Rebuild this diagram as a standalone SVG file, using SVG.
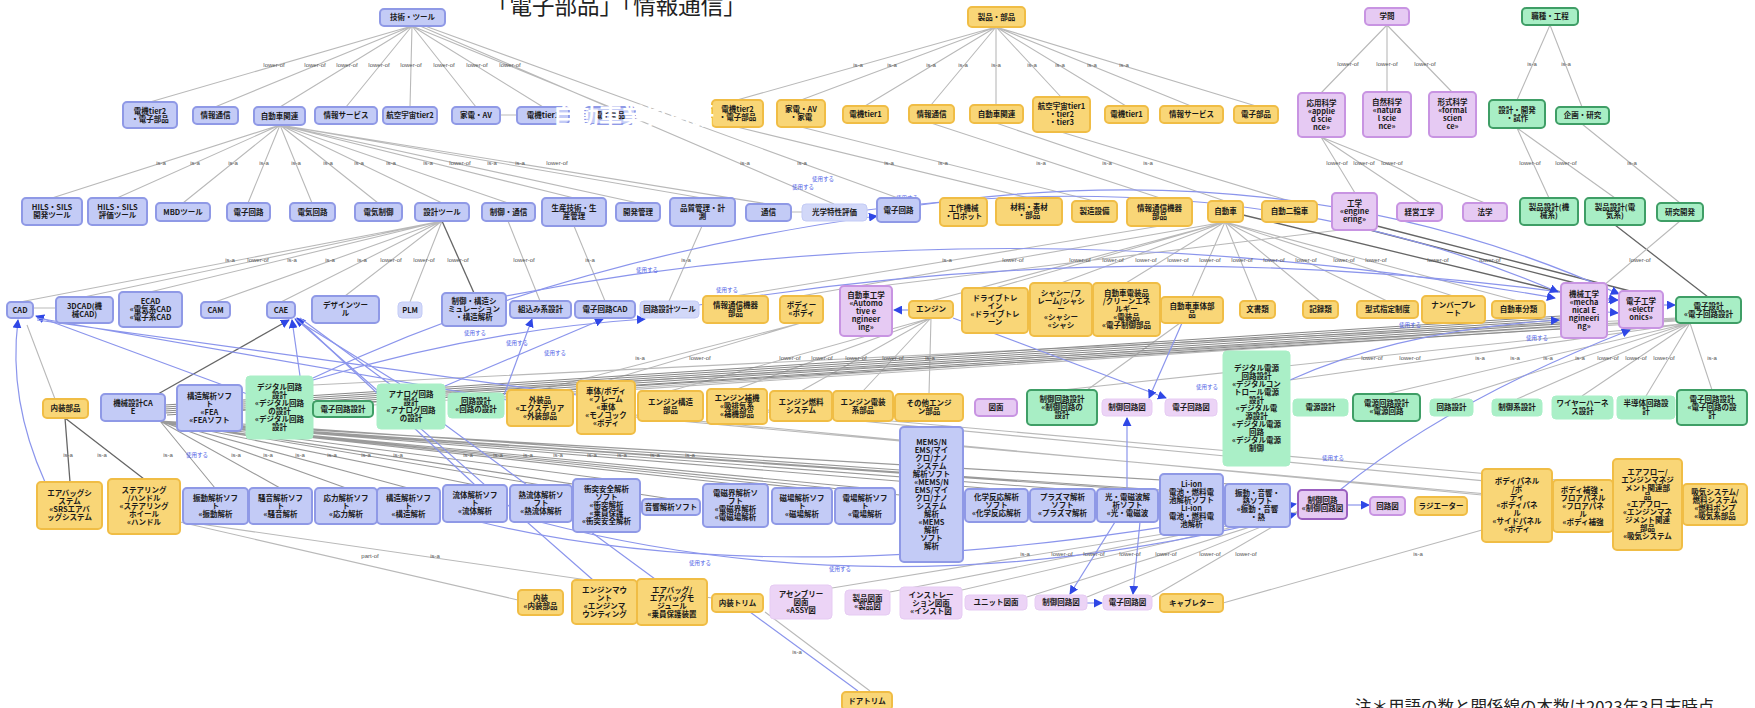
<svg xmlns="http://www.w3.org/2000/svg" width="1755" height="708" viewBox="0 0 1755 708">
<defs>
<marker id="ab" viewBox="0 0 10 10" refX="9" refY="5" markerWidth="9" markerHeight="9" markerUnits="userSpaceOnUse" orient="auto"><path d="M0,0L10,5L0,10z" fill="#2f47e6"/></marker>
<style>
.b{fill:#c3cbf6;stroke:#8f99e6;stroke-width:2}
.bl{fill:#d2d8f8;stroke:#c3cbf6;stroke-width:1}
.y{fill:#f9d677;stroke:#f0bd45;stroke-width:2}
.p{fill:#e6caf3;stroke:#c894e2;stroke-width:2}
.pl{fill:#ecd4f6;stroke:#e6cbf3;stroke-width:1}
.pd{fill:#e6caf3;stroke:#9b5fc0;stroke-width:2}
.g{fill:#a8eec5;stroke:#3f9e66;stroke-width:2}
.gl{fill:#aaefc7;stroke:#aaefc7;stroke-width:1}
.t{font-family:"Noto Sans CJK JP","Noto Sans",sans-serif;font-size:7.5px;font-weight:bold;fill:#1a1a1a;text-anchor:middle}
.e{stroke:#b9b9b9;stroke-width:1.1;fill:none}
.em{stroke:#9a9a9a;stroke-width:1.1;fill:none}
.ek{stroke:#888;stroke-width:1;fill:none}
.ed{stroke:#666;stroke-width:1.3;fill:none}
.eb{stroke:#8b95ec;stroke-width:1.2;fill:none;marker-end:url(#ab)}
.ebn{stroke:#8b95ec;stroke-width:1.2;fill:none}
.l{font-family:"Liberation Sans",sans-serif;font-size:6px;fill:#555;text-anchor:middle}
.lb{font-family:"Noto Sans CJK JP",sans-serif;font-size:5.5px;fill:#4a5ae6;text-anchor:middle}
</style>
</defs>
<rect width="1755" height="708" fill="#ffffff"/>
<g id="connectors">
<path class="e" d="M412 26L150 102M412 26L215 107M412 26L280 107M412 26L346 107M412 26L410 107M412 26L476 107M412 26L543 107M412 26L610 107M420 26L834 204M425 26L898 198"/>
<path class="e" d="M996 27L737 100M996 27L801 100M996 27L865 106M996 27L931 105M996 27L996 105M996 27L1061 97M996 27L1126 106M996 27L1191 106M996 27L1256 106"/>
<path class="e" d="M1387 25L1321 93M1387 25L1387 92M1387 25L1452 92M1550 25L1517 100M1550 25L1582 107"/>
<path class="e" d="M280 125L52 198M280 125L117 198M280 125L183 203M280 125L248 203M280 125L312 203M280 125L378 203M280 125L442 203M280 125L508 203M280 125L574 198M280 125L638 203M280 125L702 198M280 125L768 204"/>
<path class="e" d="M737 127L1029 198M801 127L1094 201M931 123L1160 198M996 123L1225 201M1061 132L1290 201"/>
<path class="e" d="M1321 137L1355 193M1321 137L1420 203M1321 137L1485 203M1517 128L1549 198M1517 128L1615 198M1582 124L1680 203"/>
<path class="e" d="M500 115L517 115M791 212L802 212M33 308L56 308"/>
<path class="e" d="M442 221L20 302M442 221L84 297M442 221L150 292M442 221L215 302M442 221L281 302M442 221L345 296M442 221L410 302M508 221L540 301M574 226L605 301M702 226L669 301M1160 226L735 296"/>
<path class="ed" d="M442 221L474 293"/>
<path class="e" d="M1225 222L801 296M1225 222L931 301M1225 222L995 288M1225 222L1061 283M1225 222L1126 283M1225 222L1192 297M1225 222L1257 301M1225 222L1320 301M1225 222L1387 301M1225 222L1453 296M1225 222L1518 301M1340 230L880 286"/>
<path class="ed" d="M1243 215L1561 292M1370 230L1575 283M1377 226L1630 291M1615 225L1708 297"/>
<path class="e" d="M1680 221L1603 286"/>
<path class="e" d="M931 318L670 391M931 318L737 389M931 318L801 391M931 318L863 391M931 318L929 394M801 323L540 390M801 323L606 381M1180 323L1087 390"/>
<path class="e" d="M1690 323L1062 390M1690 323L1290 380M1690 323L1386 394M1690 323L1451 399M1690 323L1517 399M1690 323L1582 396M1690 323L1646 396M1690 323L1712 390M1676 318L313 385M1676 319L373 405M1676 320L445 392M1676 321L504 398"/>
<path class="ek" d="M1561 316L165 405M1561 318L165 407M1561 320L165 409M1561 322L165 411M1561 324L165 413M1561 326L167 415M1561 329L242 410"/>
<path class="em" d="M160 421L215 488M160 421L280 488M160 421L346 488M160 421L408 488M160 421L475 485M160 421L541 485M160 421L606 479M160 421L671 499M160 421L735 484M160 421L802 488M160 421L865 488M160 421L900 495M160 421L996 489M160 421L1062 489M160 421L1127 489M160 421L1160 490M160 421L1230 484M242 424L900 470M242 426L1160 480"/>
<path class="ed" d="M65 418L70 482M65 418L144 479"/>
<path class="e" d="M180 522L518 600M200 524L712 598M635 415L1482 495M635 417L1553 500M767 410L1613 485M767 412L1683 500M1223 603L1482 530M1298 512L832 588M1298 512L890 592M1298 512L962 590M1298 512L1027 597M1298 512L1087 597M1298 512L1152 597M765 612L870 691M27 325L55 399"/>
<path class="ed" d="M158 394L289 320" style="marker-end:url(#ab)"/>
<path class="eb" d="M45 482Q8 400 18 320"/>
<path class="eb" d="M250 395L36 316"/>
<path class="eb" d="M300 376L292 320"/>
<path class="eb" d="M400 384L295 319"/>
<path class="eb" d="M475 485L297 318"/>
<path class="eb" d="M313 380Q480 330 645 319"/>
<path class="eb" d="M445 386L603 319"/>
<path class="eb" d="M504 395L532 319"/>
<path class="eb" d="M313 378Q560 260 877 216"/>
<path class="eb" d="M506 296Q1000 200 1555 298"/>
<path class="eb" d="M699 305Q1150 230 1617 300"/>
<path class="eb" d="M920 205Q1300 150 1619 294"/>
<path class="eb" d="M867 210Q1250 160 1558 292"/>
<path class="eb" d="M909 310L894 310"/>
<path class="eb" d="M953 318L1166 398"/>
<path class="eb" d="M1182 323L1149 398"/>
<path class="eb" d="M1127 489L1127 418"/>
<path class="eb" d="M1115 522L1070 594"/>
<path class="eb" d="M1140 522L1133 594"/>
<path class="eb" d="M1087 603L1102 603"/>
<path class="eb" d="M1347 505L1369 505"/>
<path class="eb" d="M480 522Q800 600 1296 504"/>
<path class="eb" d="M540 522Q900 615 1296 514"/>
<path class="eb" d="M1340 490Q1450 400 1630 330"/>
<path class="eb" d="M1290 380Q1400 330 1559 320"/>
<path class="eb" d="M1607 300L1618 300"/>
<path class="eb" d="M1607 312L1618 313"/>
<path class="eb" d="M1663 305L1675 305"/>
<path class="ebn" d="M593 580L296 319M655 579L300 318M750 612L858 691M37 318L507 400M37 320L577 395"/>
<g id="edge-labels">
<text class="l" x="274" y="67">lower-of</text><text class="l" x="315" y="67">lower-of</text><text class="l" x="347" y="67">lower-of</text><text class="l" x="379" y="67">lower-of</text><text class="l" x="411" y="67">lower-of</text><text class="l" x="444" y="67">lower-of</text><text class="l" x="477" y="67">lower-of</text><text class="l" x="510" y="67">lower-of</text>
<text class="l" x="858" y="67">is-a</text><text class="l" x="892" y="67">is-a</text><text class="l" x="931" y="67">is-a</text><text class="l" x="963" y="67">is-a</text><text class="l" x="996" y="67">is-a</text><text class="l" x="1032" y="67">is-a</text><text class="l" x="1060" y="67">is-a</text><text class="l" x="1092" y="67">is-a</text><text class="l" x="1124" y="67">is-a</text>
<text class="l" x="1348" y="66">lower-of</text><text class="l" x="1387" y="66">lower-of</text><text class="l" x="1425" y="66">lower-of</text><text class="l" x="1532" y="66">is-a</text><text class="l" x="1566" y="66">is-a</text>
<text class="l" x="161" y="165">is-a</text><text class="l" x="195" y="165">is-a</text><text class="l" x="233" y="165">is-a</text><text class="l" x="264" y="165">is-a</text><text class="l" x="296" y="165">is-a</text><text class="l" x="328" y="165">is-a</text><text class="l" x="359" y="165">is-a</text><text class="l" x="391" y="165">is-a</text><text class="l" x="428" y="165">is-a</text><text class="l" x="460" y="165">lower-of</text><text class="l" x="492" y="165">is-a</text><text class="l" x="520" y="165">is-a</text><text class="l" x="557" y="165">lower-of</text>
<text class="l" x="745" y="165">is-a</text><text class="l" x="802" y="165">is-a</text><text class="l" x="889" y="165">is-a</text><text class="l" x="943" y="165">is-a</text><text class="l" x="1041" y="165">is-a</text><text class="l" x="1107" y="165">is-a</text><text class="l" x="1148" y="165">is-a</text>
<text class="l" x="1337" y="165">lower-of</text><text class="l" x="1364" y="165">lower-of</text><text class="l" x="1392" y="165">lower-of</text><text class="l" x="1530" y="165">lower-of</text><text class="l" x="1566" y="165">lower-of</text><text class="l" x="1632" y="165">is-a</text>
<text class="l" x="230" y="262">is-a</text><text class="l" x="258" y="262">lower-of</text><text class="l" x="292" y="262">is-a</text><text class="l" x="330" y="262">is-a</text><text class="l" x="362" y="262">is-a</text><text class="l" x="391" y="262">lower-of</text><text class="l" x="424" y="262">lower-of</text><text class="l" x="458" y="262">lower-of</text><text class="l" x="524" y="262">lower-of</text><text class="l" x="590" y="262">is-a</text><text class="l" x="686" y="262">is-a</text>
<text class="l" x="947" y="262">is-a</text><text class="l" x="1013" y="262">lower-of</text><text class="l" x="1080" y="262">lower-of</text><text class="l" x="1113" y="262">lower-of</text><text class="l" x="1146" y="262">lower-of</text><text class="l" x="1178" y="262">lower-of</text><text class="l" x="1210" y="262">lower-of</text><text class="l" x="1242" y="262">lower-of</text><text class="l" x="1274" y="262">lower-of</text><text class="l" x="1306" y="262">lower-of</text><text class="l" x="1344" y="262">lower-of</text><text class="l" x="1376" y="262">lower-of</text><text class="l" x="1438" y="262">lower-of</text><text class="l" x="1490" y="262">lower-of</text><text class="l" x="1640" y="262">lower-of</text>
<text class="l" x="640" y="360">is-a</text><text class="l" x="700" y="360">lower-of</text><text class="l" x="790" y="360">lower-of</text><text class="l" x="822" y="360">lower-of</text><text class="l" x="856" y="360">lower-of</text><text class="l" x="893" y="360">lower-of</text><text class="l" x="930" y="360">is-a</text>
<text class="l" x="1372" y="360">lower-of</text><text class="l" x="1410" y="360">lower-of</text><text class="l" x="1480" y="360">is-a</text><text class="l" x="1515" y="360">is-a</text><text class="l" x="1548" y="360">is-a</text><text class="l" x="1580" y="360">is-a</text><text class="l" x="1608" y="360">lower-of</text><text class="l" x="1636" y="360">lower-of</text><text class="l" x="1664" y="360">lower-of</text><text class="l" x="1712" y="360">is-a</text>
<text class="l" x="68" y="457">is-a</text><text class="l" x="102" y="457">is-a</text><text class="l" x="168" y="457">is-a</text><text class="l" x="236" y="457">is-a</text><text class="l" x="268" y="457">is-a</text><text class="l" x="300" y="457">is-a</text><text class="l" x="332" y="457">is-a</text><text class="l" x="366" y="457">is-a</text><text class="l" x="398" y="457">is-a</text><text class="l" x="468" y="457">is-a</text><text class="l" x="498" y="457">is-a</text><text class="l" x="528" y="457">is-a</text><text class="l" x="558" y="457">is-a</text><text class="l" x="592" y="457">is-a</text><text class="l" x="622" y="457">is-a</text><text class="l" x="655" y="457">is-a</text><text class="l" x="690" y="457">is-a</text>
<text class="l" x="370" y="558">part-of</text><text class="l" x="435" y="558">is-a</text><text class="l" x="797" y="654">is-a</text><text class="l" x="1418" y="556">is-a</text>
<text class="l" x="1025" y="556">is-a</text><text class="l" x="1062" y="556">lower-of</text><text class="l" x="1094" y="556">lower-of</text><text class="l" x="1130" y="556">lower-of</text><text class="l" x="1166" y="556">lower-of</text><text class="l" x="1210" y="556">lower-of</text><text class="l" x="1246" y="556">lower-of</text>
<text class="lb" x="823" y="181">使用する</text><text class="lb" x="803" y="189">使用する</text><text class="lb" x="907" y="200">使用する</text><text class="lb" x="647" y="272">使用する</text><text class="lb" x="727" y="292">使用する</text><text class="lb" x="475" y="335">使用する</text><text class="lb" x="517" y="345">使用する</text><text class="lb" x="555" y="355">使用する</text><text class="lb" x="1207" y="389">使用する</text><text class="lb" x="1410" y="327">使用する</text><text class="lb" x="1537" y="340">使用する</text><text class="lb" x="1333" y="460">使用する</text><text class="lb" x="197" y="457">使用する</text><text class="lb" x="700" y="565">使用する</text><text class="lb" x="840" y="571">使用する</text>
</g>
</g>
<g id="nodes">
<g id="n1"><rect class="b" x="380" y="9" width="65" height="17" rx="4"/><text class="t" x="412.5" y="20.2">技術・ツール</text></g>
<g id="n2"><rect class="y" x="968" y="7" width="57" height="20" rx="4"/><text class="t" x="996.5" y="19.7">製品・部品</text></g>
<g id="n3"><rect class="p" x="1365" y="8" width="44" height="17" rx="4"/><text class="t" x="1387" y="19.2">学問</text></g>
<g id="n4"><rect class="g" x="1522" y="8" width="56" height="17" rx="4"/><text class="t" x="1550" y="19.2">職種・工程</text></g>
<g id="a1"><rect class="b" x="123" y="102" width="54" height="26" rx="4"/><text class="t" x="150" y="113.7"><tspan x="150">電機tier2</tspan><tspan x="150" dy="8">・電子部品</tspan></text></g>
<g id="a2"><rect class="b" x="193" y="107" width="45" height="17" rx="4"/><text class="t" x="215.5" y="118.2">情報通信</text></g>
<g id="a3"><rect class="b" x="254" y="107" width="51" height="18" rx="4"/><text class="t" x="279.5" y="118.7">自動車関連</text></g>
<g id="a4"><rect class="b" x="315" y="107" width="62" height="17" rx="4"/><text class="t" x="346" y="118.2">情報サービス</text></g>
<g id="a5"><rect class="b" x="383" y="107" width="54" height="17" rx="4"/><text class="t" x="410" y="118.2">航空宇宙tier2</text></g>
<g id="a6"><rect class="b" x="452" y="107" width="48" height="17" rx="4"/><text class="t" x="476" y="118.2">家電・AV</text></g>
<g id="a7"><rect class="b" x="517" y="107" width="52" height="17" rx="4"/><text class="t" x="543" y="118.2">電機tier1</text></g>
<g id="a8"><rect class="b" x="585" y="107" width="50" height="17" rx="4"/><text class="t" x="610" y="118.2">電子部品</text></g>
<g id="c1"><rect class="y" x="712" y="100" width="51" height="27" rx="4"/><text class="t" x="737.5" y="112.2"><tspan x="737.5">電機tier2</tspan><tspan x="737.5" dy="8">・電子部品</tspan></text></g>
<g id="c2"><rect class="y" x="777" y="100" width="48" height="27" rx="4"/><text class="t" x="801" y="112.2"><tspan x="801">家電・AV</tspan><tspan x="801" dy="8">・家電</tspan></text></g>
<g id="c3"><rect class="y" x="843" y="106" width="45" height="17" rx="4"/><text class="t" x="865.5" y="117.2">電機tier1</text></g>
<g id="c4"><rect class="y" x="909" y="105" width="45" height="18" rx="4"/><text class="t" x="931.5" y="116.7">情報通信</text></g>
<g id="c5"><rect class="y" x="970" y="105" width="53" height="18" rx="4"/><text class="t" x="996.5" y="116.7">自動車関連</text></g>
<g id="c6"><rect class="y" x="1033" y="97" width="57" height="35" rx="4"/><text class="t" x="1061.5" y="109.2"><tspan x="1061.5">航空宇宙tier1</tspan><tspan x="1061.5" dy="8">・tier2</tspan><tspan x="1061.5" dy="8">・tier3</tspan></text></g>
<g id="c7"><rect class="y" x="1105" y="106" width="43" height="17" rx="4"/><text class="t" x="1126.5" y="117.2">電機tier1</text></g>
<g id="c8"><rect class="y" x="1160" y="106" width="63" height="17" rx="4"/><text class="t" x="1191.5" y="117.2">情報サービス</text></g>
<g id="c9"><rect class="y" x="1234" y="106" width="44" height="17" rx="4"/><text class="t" x="1256" y="117.2">電子部品</text></g>
<g id="p1"><rect class="p" x="1298" y="93" width="47" height="44" rx="4"/><text class="t" x="1321.5" y="105.7"><tspan x="1321.5">応用科学</tspan><tspan x="1321.5" dy="8">«applie</tspan><tspan x="1321.5" dy="8">d scie</tspan><tspan x="1321.5" dy="8">nce»</tspan></text></g>
<g id="p2"><rect class="p" x="1363" y="92" width="48" height="45" rx="4"/><text class="t" x="1387" y="105.2"><tspan x="1387">自然科学</tspan><tspan x="1387" dy="8">«natura</tspan><tspan x="1387" dy="8">l scie</tspan><tspan x="1387" dy="8">nce»</tspan></text></g>
<g id="p3"><rect class="p" x="1429" y="92" width="47" height="45" rx="4"/><text class="t" x="1452.5" y="105.2"><tspan x="1452.5">形式科学</tspan><tspan x="1452.5" dy="8">«formal</tspan><tspan x="1452.5" dy="8">scien</tspan><tspan x="1452.5" dy="8">ce»</tspan></text></g>
<g id="g1"><rect class="g" x="1489" y="100" width="56" height="28" rx="4"/><text class="t" x="1517" y="112.7"><tspan x="1517">設計・開発</tspan><tspan x="1517" dy="8">・試作</tspan></text></g>
<g id="g2"><rect class="g" x="1556" y="107" width="53" height="17" rx="4"/><text class="t" x="1582.5" y="118.2">企画・研究</text></g>
<g id="b1"><rect class="b" x="22" y="198" width="60" height="27" rx="4"/><text class="t" x="52" y="210.2"><tspan x="52">HILS・SILS</tspan><tspan x="52" dy="8">開発ツール</tspan></text></g>
<g id="b2"><rect class="b" x="88" y="198" width="59" height="27" rx="4"/><text class="t" x="117.5" y="210.2"><tspan x="117.5">HILS・SILS</tspan><tspan x="117.5" dy="8">評価ツール</tspan></text></g>
<g id="b3"><rect class="b" x="156" y="203" width="54" height="18" rx="4"/><text class="t" x="183" y="214.7">MBDツール</text></g>
<g id="b4"><rect class="b" x="227" y="203" width="43" height="18" rx="4"/><text class="t" x="248.5" y="214.7">電子回路</text></g>
<g id="b5"><rect class="b" x="290" y="203" width="45" height="18" rx="4"/><text class="t" x="312.5" y="214.7">電気回路</text></g>
<g id="b6"><rect class="b" x="355" y="203" width="47" height="18" rx="4"/><text class="t" x="378.5" y="214.7">電気制御</text></g>
<g id="b7"><rect class="b" x="415" y="203" width="54" height="18" rx="4"/><text class="t" x="442" y="214.7">設計ツール</text></g>
<g id="b8"><rect class="b" x="482" y="203" width="53" height="18" rx="4"/><text class="t" x="508.5" y="214.7">制御・通信</text></g>
<g id="b9"><rect class="b" x="542" y="198" width="64" height="28" rx="4"/><text class="t" x="574" y="210.7"><tspan x="574">生産技術・生</tspan><tspan x="574" dy="8">産管理</tspan></text></g>
<g id="b10"><rect class="b" x="616" y="203" width="44" height="18" rx="4"/><text class="t" x="638" y="214.7">開発管理</text></g>
<g id="b11"><rect class="b" x="670" y="198" width="65" height="28" rx="4"/><text class="t" x="702.5" y="210.7"><tspan x="702.5">品質管理・計</tspan><tspan x="702.5" dy="8">測</tspan></text></g>
<g id="b12"><rect class="b" x="746" y="204" width="45" height="17" rx="4"/><text class="t" x="768.5" y="215.2">通信</text></g>
<g id="b13"><rect class="bl" x="802" y="204" width="65" height="17" rx="4"/><text class="t" x="834.5" y="215.2">光学特性評価</text></g>
<g id="b14"><rect class="b" x="877" y="198" width="43" height="24" rx="4"/><text class="t" x="898.5" y="212.7">電子回路</text></g>
<g id="c10"><rect class="y" x="940" y="198" width="47" height="28" rx="4"/><text class="t" x="963.5" y="210.7"><tspan x="963.5">工作機械</tspan><tspan x="963.5" dy="8">・ロボット</tspan></text></g>
<g id="c11"><rect class="y" x="996" y="198" width="66" height="27" rx="4"/><text class="t" x="1029" y="210.2"><tspan x="1029">材料・素材</tspan><tspan x="1029" dy="8">・部品</tspan></text></g>
<g id="c12"><rect class="y" x="1072" y="201" width="45" height="21" rx="4"/><text class="t" x="1094.5" y="214.2">製造設備</text></g>
<g id="c13"><rect class="y" x="1127" y="198" width="65" height="28" rx="4"/><text class="t" x="1159.5" y="210.7"><tspan x="1159.5">情報通信機器</tspan><tspan x="1159.5" dy="8">部品</tspan></text></g>
<g id="c14"><rect class="y" x="1208" y="201" width="35" height="21" rx="4"/><text class="t" x="1225.5" y="214.2">自動車</text></g>
<g id="c15"><rect class="y" x="1262" y="201" width="55" height="21" rx="4"/><text class="t" x="1289.5" y="214.2">自動二輪車</text></g>
<g id="p4"><rect class="p" x="1332" y="193" width="45" height="37" rx="4"/><text class="t" x="1354.5" y="206.2"><tspan x="1354.5">工学</tspan><tspan x="1354.5" dy="8">«engine</tspan><tspan x="1354.5" dy="8">ering»</tspan></text></g>
<g id="p5"><rect class="p" x="1397" y="203" width="45" height="18" rx="4"/><text class="t" x="1419.5" y="214.7">経営工学</text></g>
<g id="p6"><rect class="p" x="1463" y="203" width="44" height="18" rx="4"/><text class="t" x="1485" y="214.7">法学</text></g>
<g id="g3"><rect class="g" x="1520" y="198" width="58" height="27" rx="4"/><text class="t" x="1549" y="210.2"><tspan x="1549">製品設計(機</tspan><tspan x="1549" dy="8">械系)</tspan></text></g>
<g id="g4"><rect class="g" x="1585" y="198" width="60" height="27" rx="4"/><text class="t" x="1615" y="210.2"><tspan x="1615">製品設計(電</tspan><tspan x="1615" dy="8">気系)</tspan></text></g>
<g id="g5"><rect class="g" x="1657" y="203" width="46" height="18" rx="4"/><text class="t" x="1680" y="214.7">研究開発</text></g>
<g id="d1"><rect class="b" x="7" y="302" width="26" height="16" rx="4"/><text class="t" x="20" y="312.7">CAD</text></g>
<g id="d2"><rect class="b" x="56" y="297" width="57" height="26" rx="4"/><text class="t" x="84.5" y="308.7"><tspan x="84.5">3DCAD(機</tspan><tspan x="84.5" dy="8">械CAD)</tspan></text></g>
<g id="d3"><rect class="b" x="119" y="292" width="63" height="35" rx="4"/><text class="t" x="150.5" y="304.2"><tspan x="150.5">ECAD</tspan><tspan x="150.5" dy="8">«電気系CAD</tspan><tspan x="150.5" dy="8">«電子系CAD</tspan></text></g>
<g id="d4"><rect class="b" x="201" y="302" width="29" height="16" rx="4"/><text class="t" x="215.5" y="312.7">CAM</text></g>
<g id="d5"><rect class="b" x="267" y="302" width="28" height="16" rx="4"/><text class="t" x="281" y="312.7">CAE</text></g>
<g id="d6"><rect class="b" x="312" y="296" width="67" height="27" rx="4"/><text class="t" x="345.5" y="308.2"><tspan x="345.5">デザインツー</tspan><tspan x="345.5" dy="8">ル</tspan></text></g>
<g id="d7"><rect class="bl" x="398" y="302" width="24" height="16" rx="4"/><text class="t" x="410" y="312.7">PLM</text></g>
<g id="d8"><rect class="b" x="442" y="293" width="64" height="33" rx="4"/><text class="t" x="474" y="304.2"><tspan x="474">制御・構造シ</tspan><tspan x="474" dy="8">ミュレーション</tspan><tspan x="474" dy="8">・構造解析</tspan></text></g>
<g id="d9"><rect class="b" x="510" y="301" width="61" height="17" rx="4"/><text class="t" x="540.5" y="312.2">組込み系設計</text></g>
<g id="d10"><rect class="b" x="575" y="301" width="60" height="17" rx="4"/><text class="t" x="605" y="312.2">電子回路CAD</text></g>
<g id="d11"><rect class="bl" x="640" y="301" width="59" height="17" rx="4"/><text class="t" x="669.5" y="312.2">回路設計ツール</text></g>
<g id="d12"><rect class="y" x="703" y="296" width="65" height="27" rx="4"/><text class="t" x="735.5" y="308.2"><tspan x="735.5">情報通信機器</tspan><tspan x="735.5" dy="8">部品</tspan></text></g>
<g id="d13"><rect class="y" x="780" y="296" width="43" height="27" rx="4"/><text class="t" x="801.5" y="308.2"><tspan x="801.5">ボディー</tspan><tspan x="801.5" dy="8">«ボディ</tspan></text></g>
<g id="d14"><rect class="p" x="840" y="286" width="52" height="50" rx="4"/><text class="t" x="866" y="297.7"><tspan x="866">自動車工学</tspan><tspan x="866" dy="8">«Automo</tspan><tspan x="866" dy="8">tive e</tspan><tspan x="866" dy="8">ngineer</tspan><tspan x="866" dy="8">ing»</tspan></text></g>
<g id="d15"><rect class="y" x="909" y="301" width="44" height="17" rx="4"/><text class="t" x="931" y="312.2">エンジン</text></g>
<g id="d16"><rect class="y" x="962" y="288" width="66" height="45" rx="4"/><text class="t" x="995" y="301.2"><tspan x="995">ドライブトレ</tspan><tspan x="995" dy="8">イン</tspan><tspan x="995" dy="8">«ドライブトレ</tspan><tspan x="995" dy="8">ーン</tspan></text></g>
<g id="d17"><rect class="y" x="1030" y="283" width="62" height="53" rx="4"/><text class="t" x="1061" y="296.2"><tspan x="1061">シャシー/フ</tspan><tspan x="1061" dy="8">レーム/シャシ</tspan><tspan x="1061" dy="8">ー</tspan><tspan x="1061" dy="8">«シャシー</tspan><tspan x="1061" dy="8">«シャシ</tspan></text></g>
<g id="d18"><rect class="y" x="1093" y="283" width="67" height="53" rx="4"/><text class="t" x="1126.5" y="296.2"><tspan x="1126.5">自動車電装品</tspan><tspan x="1126.5" dy="8">/クリーンエネ</tspan><tspan x="1126.5" dy="8">ルギー</tspan><tspan x="1126.5" dy="8">«電装品</tspan><tspan x="1126.5" dy="8">«電子制御部品</tspan></text></g>
<g id="d19"><rect class="y" x="1161" y="297" width="62" height="26" rx="4"/><text class="t" x="1192" y="308.7"><tspan x="1192">自動車車体部</tspan><tspan x="1192" dy="8">品</tspan></text></g>
<g id="d20"><rect class="y" x="1240" y="301" width="35" height="17" rx="4"/><text class="t" x="1257.5" y="312.2">文書類</text></g>
<g id="d21"><rect class="y" x="1303" y="301" width="35" height="17" rx="4"/><text class="t" x="1320.5" y="312.2">記録類</text></g>
<g id="d22"><rect class="y" x="1357" y="301" width="61" height="17" rx="4"/><text class="t" x="1387.5" y="312.2">型式指定制度</text></g>
<g id="d23"><rect class="y" x="1422" y="296" width="63" height="27" rx="4"/><text class="t" x="1453.5" y="308.2"><tspan x="1453.5">ナンバープレ</tspan><tspan x="1453.5" dy="8">ート</tspan></text></g>
<g id="d24"><rect class="y" x="1492" y="301" width="53" height="17" rx="4"/><text class="t" x="1518.5" y="312.2">自動車分類</text></g>
<g id="d25"><rect class="p" x="1561" y="283" width="46" height="55" rx="4"/><text class="t" x="1584" y="297.2"><tspan x="1584">機械工学</tspan><tspan x="1584" dy="8">«mecha</tspan><tspan x="1584" dy="8">nical E</tspan><tspan x="1584" dy="8">ngineeri</tspan><tspan x="1584" dy="8">ng»</tspan></text></g>
<g id="d26"><rect class="p" x="1619" y="291" width="44" height="37" rx="4"/><text class="t" x="1641" y="304.2"><tspan x="1641">電子工学</tspan><tspan x="1641" dy="8">«electr</tspan><tspan x="1641" dy="8">onics»</tspan></text></g>
<g id="d27"><rect class="g" x="1676" y="297" width="65" height="26" rx="4"/><text class="t" x="1708.5" y="308.7"><tspan x="1708.5">電子設計</tspan><tspan x="1708.5" dy="8">«電子回路設計</tspan></text></g>
<g id="e1"><rect class="y" x="43" y="399" width="45" height="19" rx="4"/><text class="t" x="65.5" y="411.2">内装部品</text></g>
<g id="e2"><rect class="b" x="101" y="394" width="64" height="27" rx="4"/><text class="t" x="133" y="406.2"><tspan x="133">機械設計CA</tspan><tspan x="133" dy="8">E</tspan></text></g>
<g id="e3"><rect class="b" x="177" y="385" width="65" height="46" rx="4"/><text class="t" x="209.5" y="398.7"><tspan x="209.5">構造解析ソフ</tspan><tspan x="209.5" dy="8">ト</tspan><tspan x="209.5" dy="8">«FEA</tspan><tspan x="209.5" dy="8">«FEAソフト</tspan></text></g>
<g id="e4"><rect class="gl" x="246" y="376" width="67" height="63" rx="4"/><text class="t" x="279.5" y="390.2"><tspan x="279.5">デジタル回路</tspan><tspan x="279.5" dy="8">設計</tspan><tspan x="279.5" dy="8">«デジタル回路</tspan><tspan x="279.5" dy="8">の設計</tspan><tspan x="279.5" dy="8">«デジタル回路</tspan><tspan x="279.5" dy="8">設計</tspan></text></g>
<g id="e5"><rect class="g" x="313" y="401" width="60" height="16" rx="4"/><text class="t" x="343" y="411.7">電子回路設計</text></g>
<g id="e6"><rect class="gl" x="377" y="384" width="68" height="45" rx="4"/><text class="t" x="411" y="397.2"><tspan x="411">アナログ回路</tspan><tspan x="411" dy="8">設計</tspan><tspan x="411" dy="8">«アナログ回路</tspan><tspan x="411" dy="8">の設計</tspan></text></g>
<g id="e7"><rect class="gl" x="448" y="393" width="56" height="25" rx="4"/><text class="t" x="476" y="404.2"><tspan x="476">回路設計</tspan><tspan x="476" dy="8">«回路の設計</tspan></text></g>
<g id="e8"><rect class="y" x="507" y="390" width="66" height="36" rx="4"/><text class="t" x="540" y="402.7"><tspan x="540">外装品</tspan><tspan x="540" dy="8">«エクステリア</tspan><tspan x="540" dy="8">«外装部品</tspan></text></g>
<g id="e9"><rect class="y" x="577" y="381" width="58" height="53" rx="4"/><text class="t" x="606" y="394.2"><tspan x="606">車体/ボディ</tspan><tspan x="606" dy="8">«フレーム</tspan><tspan x="606" dy="8">«車体</tspan><tspan x="606" dy="8">«モノコック</tspan><tspan x="606" dy="8">«ボディ</tspan></text></g>
<g id="e10"><rect class="y" x="638" y="391" width="65" height="30" rx="4"/><text class="t" x="670.5" y="404.7"><tspan x="670.5">エンジン構造</tspan><tspan x="670.5" dy="8">部品</tspan></text></g>
<g id="e11"><rect class="y" x="707" y="389" width="60" height="35" rx="4"/><text class="t" x="737" y="401.2"><tspan x="737">エンジン補機</tspan><tspan x="737" dy="8">«吸排気系</tspan><tspan x="737" dy="8">«補機部品</tspan></text></g>
<g id="e12"><rect class="y" x="770" y="391" width="62" height="30" rx="4"/><text class="t" x="801" y="404.7"><tspan x="801">エンジン燃料</tspan><tspan x="801" dy="8">システム</tspan></text></g>
<g id="e13"><rect class="y" x="833" y="391" width="60" height="30" rx="4"/><text class="t" x="863" y="404.7"><tspan x="863">エンジン電装</tspan><tspan x="863" dy="8">系部品</tspan></text></g>
<g id="e14"><rect class="y" x="895" y="394" width="68" height="27" rx="4"/><text class="t" x="929" y="406.2"><tspan x="929">その他エンジ</tspan><tspan x="929" dy="8">ン部品</tspan></text></g>
<g id="e15"><rect class="p" x="975" y="399" width="42" height="17" rx="4"/><text class="t" x="996" y="410.2">図面</text></g>
<g id="e16"><rect class="g" x="1027" y="390" width="70" height="35" rx="4"/><text class="t" x="1062" y="402.2"><tspan x="1062">制御回路設計</tspan><tspan x="1062" dy="8">«制御回路の</tspan><tspan x="1062" dy="8">設計</tspan></text></g>
<g id="e17"><rect class="pl" x="1102" y="399" width="50" height="17" rx="4"/><text class="t" x="1127" y="410.2">制御回路図</text></g>
<g id="e18"><rect class="pl" x="1165" y="399" width="52" height="17" rx="4"/><text class="t" x="1191" y="410.2">電子回路図</text></g>
<g id="e19"><rect class="gl" x="1223" y="351" width="67" height="115" rx="4"/><text class="t" x="1256.5" y="371.2"><tspan x="1256.5">デジタル電源</tspan><tspan x="1256.5" dy="8">回路設計</tspan><tspan x="1256.5" dy="8">«デジタルコン</tspan><tspan x="1256.5" dy="8">トロール電源</tspan><tspan x="1256.5" dy="8">設計</tspan><tspan x="1256.5" dy="8">«デジタル電</tspan><tspan x="1256.5" dy="8">源設計</tspan><tspan x="1256.5" dy="8">«デジタル電源</tspan><tspan x="1256.5" dy="8">回路</tspan><tspan x="1256.5" dy="8">«デジタル電源</tspan><tspan x="1256.5" dy="8">制御</tspan></text></g>
<g id="e20"><rect class="gl" x="1293" y="399" width="55" height="17" rx="4"/><text class="t" x="1320.5" y="410.2">電源設計</text></g>
<g id="e21"><rect class="g" x="1353" y="394" width="67" height="27" rx="4"/><text class="t" x="1386.5" y="406.2"><tspan x="1386.5">電源回路設計</tspan><tspan x="1386.5" dy="8">«電源回路</tspan></text></g>
<g id="e22"><rect class="gl" x="1430" y="399" width="43" height="17" rx="4"/><text class="t" x="1451.5" y="410.2">回路設計</text></g>
<g id="e23"><rect class="gl" x="1492" y="399" width="50" height="17" rx="4"/><text class="t" x="1517" y="410.2">制御系設計</text></g>
<g id="e24"><rect class="gl" x="1552" y="396" width="61" height="23" rx="4"/><text class="t" x="1582.5" y="406.2"><tspan x="1582.5">ワイヤーハーネ</tspan><tspan x="1582.5" dy="8">ス設計</tspan></text></g>
<g id="e25"><rect class="gl" x="1617" y="396" width="58" height="23" rx="4"/><text class="t" x="1646" y="406.2"><tspan x="1646">半導体回路設</tspan><tspan x="1646" dy="8">計</tspan></text></g>
<g id="e26"><rect class="g" x="1677" y="390" width="70" height="35" rx="4"/><text class="t" x="1712" y="402.2"><tspan x="1712">電子回路設計</tspan><tspan x="1712" dy="8">«電子回路の設</tspan><tspan x="1712" dy="8">計</tspan></text></g>
<g id="f1"><rect class="y" x="37" y="482" width="65" height="47" rx="4"/><text class="t" x="69.5" y="496.2"><tspan x="69.5">エアバッグシ</tspan><tspan x="69.5" dy="8">ステム</tspan><tspan x="69.5" dy="8">«SRSエアバ</tspan><tspan x="69.5" dy="8">ッグシステム</tspan></text></g>
<g id="f2"><rect class="y" x="108" y="479" width="72" height="55" rx="4"/><text class="t" x="144" y="493.2"><tspan x="144">ステアリング</tspan><tspan x="144" dy="8">/ハンドル</tspan><tspan x="144" dy="8">«ステアリング</tspan><tspan x="144" dy="8">ホイール</tspan><tspan x="144" dy="8">«ハンドル</tspan></text></g>
<g id="f3"><rect class="b" x="183" y="488" width="65" height="36" rx="4"/><text class="t" x="215.5" y="500.7"><tspan x="215.5">振動解析ソフ</tspan><tspan x="215.5" dy="8">ト</tspan><tspan x="215.5" dy="8">«振動解析</tspan></text></g>
<g id="f4"><rect class="b" x="249" y="488" width="63" height="36" rx="4"/><text class="t" x="280.5" y="500.7"><tspan x="280.5">騒音解析ソフ</tspan><tspan x="280.5" dy="8">ト</tspan><tspan x="280.5" dy="8">«騒音解析</tspan></text></g>
<g id="f5"><rect class="b" x="315" y="488" width="62" height="36" rx="4"/><text class="t" x="346" y="500.7"><tspan x="346">応力解析ソフ</tspan><tspan x="346" dy="8">ト</tspan><tspan x="346" dy="8">«応力解析</tspan></text></g>
<g id="f6"><rect class="b" x="377" y="488" width="63" height="36" rx="4"/><text class="t" x="408.5" y="500.7"><tspan x="408.5">構造解析ソフ</tspan><tspan x="408.5" dy="8">ト</tspan><tspan x="408.5" dy="8">«構造解析</tspan></text></g>
<g id="f7"><rect class="b" x="443" y="485" width="64" height="37" rx="4"/><text class="t" x="475" y="498.2"><tspan x="475">流体解析ソフ</tspan><tspan x="475" dy="8">ト</tspan><tspan x="475" dy="8">«流体解析</tspan></text></g>
<g id="f8"><rect class="b" x="510" y="485" width="62" height="37" rx="4"/><text class="t" x="541" y="498.2"><tspan x="541">熱流体解析ソ</tspan><tspan x="541" dy="8">フト</tspan><tspan x="541" dy="8">«熱流体解析</tspan></text></g>
<g id="f9"><rect class="b" x="573" y="479" width="67" height="53" rx="4"/><text class="t" x="606.5" y="492.2"><tspan x="606.5">衝突安全解析</tspan><tspan x="606.5" dy="8">ソフト</tspan><tspan x="606.5" dy="8">«衝突解析</tspan><tspan x="606.5" dy="8">«乗員保護</tspan><tspan x="606.5" dy="8">«衝突安全解析</tspan></text></g>
<g id="f10"><rect class="b" x="642" y="499" width="58" height="16" rx="4"/><text class="t" x="671" y="509.7">音響解析ソフト</text></g>
<g id="f11"><rect class="b" x="703" y="484" width="65" height="43" rx="4"/><text class="t" x="735.5" y="496.2"><tspan x="735.5">電磁界解析ソ</tspan><tspan x="735.5" dy="8">フト</tspan><tspan x="735.5" dy="8">«電磁界解析</tspan><tspan x="735.5" dy="8">«電磁場解析</tspan></text></g>
<g id="f12"><rect class="b" x="772" y="488" width="60" height="36" rx="4"/><text class="t" x="802" y="500.7"><tspan x="802">磁場解析ソフ</tspan><tspan x="802" dy="8">ト</tspan><tspan x="802" dy="8">«磁場解析</tspan></text></g>
<g id="f13"><rect class="b" x="835" y="488" width="60" height="36" rx="4"/><text class="t" x="865" y="500.7"><tspan x="865">電場解析ソフ</tspan><tspan x="865" dy="8">ト</tspan><tspan x="865" dy="8">«電場解析</tspan></text></g>
<g id="f14"><rect class="b" x="900" y="427" width="63" height="135" rx="4"/><text class="t" x="931.5" y="445.2"><tspan x="931.5">MEMS/N</tspan><tspan x="931.5" dy="8">EMS/マイ</tspan><tspan x="931.5" dy="8">クロ/ナノ</tspan><tspan x="931.5" dy="8">システム</tspan><tspan x="931.5" dy="8">解析ソフト</tspan><tspan x="931.5" dy="8">«MEMS/N</tspan><tspan x="931.5" dy="8">EMS/マイ</tspan><tspan x="931.5" dy="8">クロ/ナノ</tspan><tspan x="931.5" dy="8">システム</tspan><tspan x="931.5" dy="8">解析</tspan><tspan x="931.5" dy="8">«MEMS</tspan><tspan x="931.5" dy="8">解析</tspan><tspan x="931.5" dy="8">ソフト</tspan><tspan x="931.5" dy="8">解析</tspan></text></g>
<g id="f15"><rect class="b" x="965" y="489" width="63" height="33" rx="4"/><text class="t" x="996.5" y="500.2"><tspan x="996.5">化学反応解析</tspan><tspan x="996.5" dy="8">ソフト</tspan><tspan x="996.5" dy="8">«化学反応解析</tspan></text></g>
<g id="f16"><rect class="b" x="1030" y="489" width="65" height="33" rx="4"/><text class="t" x="1062.5" y="500.2"><tspan x="1062.5">プラズマ解析</tspan><tspan x="1062.5" dy="8">ソフト</tspan><tspan x="1062.5" dy="8">«プラズマ解析</tspan></text></g>
<g id="f17"><rect class="b" x="1097" y="489" width="61" height="33" rx="4"/><text class="t" x="1127.5" y="500.2"><tspan x="1127.5">光・電磁波解</tspan><tspan x="1127.5" dy="8">析ソフト</tspan><tspan x="1127.5" dy="8">«光・電磁波</tspan></text></g>
<g id="f18"><rect class="b" x="1160" y="474" width="63" height="61" rx="4"/><text class="t" x="1191.5" y="487.2"><tspan x="1191.5">Li-ion</tspan><tspan x="1191.5" dy="8">電池・燃料電</tspan><tspan x="1191.5" dy="8">池解析ソフト</tspan><tspan x="1191.5" dy="8">Li-ion</tspan><tspan x="1191.5" dy="8">電池・燃料電</tspan><tspan x="1191.5" dy="8">池解析</tspan></text></g>
<g id="f19"><rect class="b" x="1225" y="484" width="65" height="43" rx="4"/><text class="t" x="1257.5" y="496.2"><tspan x="1257.5">振動・音響・</tspan><tspan x="1257.5" dy="8">熱ソフト</tspan><tspan x="1257.5" dy="8">«振動・音響</tspan><tspan x="1257.5" dy="8">・熱</tspan></text></g>
<g id="f20"><rect class="pd" x="1298" y="490" width="49" height="29" rx="4"/><text class="t" x="1322.5" y="503.2"><tspan x="1322.5">制御回路</tspan><tspan x="1322.5" dy="8">«制御回路図</tspan></text></g>
<g id="f21"><rect class="p" x="1370" y="497" width="35" height="18" rx="4"/><text class="t" x="1387.5" y="508.7">回路図</text></g>
<g id="f22"><rect class="y" x="1415" y="497" width="52" height="18" rx="4"/><text class="t" x="1441" y="508.7">ラジエーター</text></g>
<g id="f23"><rect class="y" x="1482" y="469" width="70" height="73" rx="4"/><text class="t" x="1517" y="484.2"><tspan x="1517">ボディパネル</tspan><tspan x="1517" dy="8">/ボ</tspan><tspan x="1517" dy="8">ディ</tspan><tspan x="1517" dy="8">«ボディパネ</tspan><tspan x="1517" dy="8">ル</tspan><tspan x="1517" dy="8">«サイドパネル</tspan><tspan x="1517" dy="8">«ボディ</tspan></text></g>
<g id="f24"><rect class="y" x="1553" y="480" width="60" height="52" rx="4"/><text class="t" x="1583" y="492.7"><tspan x="1583">ボディ補強・</tspan><tspan x="1583" dy="8">フロアパネル</tspan><tspan x="1583" dy="8">«フロアパネ</tspan><tspan x="1583" dy="8">ル</tspan><tspan x="1583" dy="8">«ボディ補強</tspan></text></g>
<g id="f25"><rect class="y" x="1613" y="459" width="69" height="91" rx="4"/><text class="t" x="1647.5" y="475.2"><tspan x="1647.5">エアフロー/</tspan><tspan x="1647.5" dy="8">エンジンマネジ</tspan><tspan x="1647.5" dy="8">メント関連部</tspan><tspan x="1647.5" dy="8">品</tspan><tspan x="1647.5" dy="8">«エアフロー</tspan><tspan x="1647.5" dy="8">«エンジンマネ</tspan><tspan x="1647.5" dy="8">ジメント関連</tspan><tspan x="1647.5" dy="8">部品</tspan><tspan x="1647.5" dy="8">«吸気システム</tspan></text></g>
<g id="f26"><rect class="y" x="1683" y="484" width="64" height="41" rx="4"/><text class="t" x="1715" y="495.2"><tspan x="1715">吸気システム/</tspan><tspan x="1715" dy="8">燃料システム</tspan><tspan x="1715" dy="8">«燃料ポンプ</tspan><tspan x="1715" dy="8">«吸気系部品</tspan></text></g>
<g id="h1"><rect class="y" x="518" y="590" width="45" height="25" rx="4"/><text class="t" x="540.5" y="601.2"><tspan x="540.5">内装</tspan><tspan x="540.5" dy="8">«内装部品</tspan></text></g>
<g id="h2"><rect class="y" x="572" y="580" width="65" height="44" rx="4"/><text class="t" x="604.5" y="592.7"><tspan x="604.5">エンジンマウ</tspan><tspan x="604.5" dy="8">ント</tspan><tspan x="604.5" dy="8">«エンジンマ</tspan><tspan x="604.5" dy="8">ウンティング</tspan></text></g>
<g id="h3"><rect class="y" x="637" y="579" width="70" height="46" rx="4"/><text class="t" x="672" y="592.7"><tspan x="672">エアバッグ/</tspan><tspan x="672" dy="8">エアバッグモ</tspan><tspan x="672" dy="8">ジュール</tspan><tspan x="672" dy="8">«乗員保護装置</tspan></text></g>
<g id="h4"><rect class="y" x="712" y="594" width="51" height="18" rx="4"/><text class="t" x="737.5" y="605.7">内装トリム</text></g>
<g id="h5"><rect class="pl" x="770" y="585" width="62" height="34" rx="4"/><text class="t" x="801" y="596.7"><tspan x="801">アセンブリー</tspan><tspan x="801" dy="8">図面</tspan><tspan x="801" dy="8">«ASSY図</tspan></text></g>
<g id="h6"><rect class="pl" x="845" y="590" width="45" height="25" rx="4"/><text class="t" x="867.5" y="601.2"><tspan x="867.5">製品図面</tspan><tspan x="867.5" dy="8">«製品図</tspan></text></g>
<g id="h7"><rect class="pl" x="900" y="587" width="62" height="32" rx="4"/><text class="t" x="931" y="597.7"><tspan x="931">インストレー</tspan><tspan x="931" dy="8">ション図面</tspan><tspan x="931" dy="8">«インスト図</tspan></text></g>
<g id="h8"><rect class="pl" x="965" y="595" width="62" height="15" rx="4"/><text class="t" x="996" y="605.2">ユニット図面</text></g>
<g id="h9"><rect class="pl" x="1035" y="595" width="52" height="15" rx="4"/><text class="t" x="1061" y="605.2">制御回路図</text></g>
<g id="h10"><rect class="pl" x="1103" y="595" width="49" height="15" rx="4"/><text class="t" x="1127.5" y="605.2">電子回路図</text></g>
<g id="h11"><rect class="y" x="1160" y="594" width="63" height="18" rx="4"/><text class="t" x="1191.5" y="605.7">キャブレター</text></g>
<g id="h12"><rect class="y" x="842" y="692" width="50" height="18" rx="4"/><text class="t" x="867" y="703.7">ドアトリム</text></g>
</g>
<text x="553" y="124" font-family="Noto Sans CJK JP, sans-serif" font-size="23" font-weight="bold" fill="#ffffff">自動車業界用語</text>
<text x="487" y="14" font-family="Noto Sans CJK JP, sans-serif" font-size="22.5" fill="#222">「電子部品」「情報通信」</text>
<text x="1355" y="713" font-family="Noto Sans CJK JP, sans-serif" font-size="16.5" fill="#222">注＊用語の数と関係線の本数は2023年3月末時点</text>
</svg>
